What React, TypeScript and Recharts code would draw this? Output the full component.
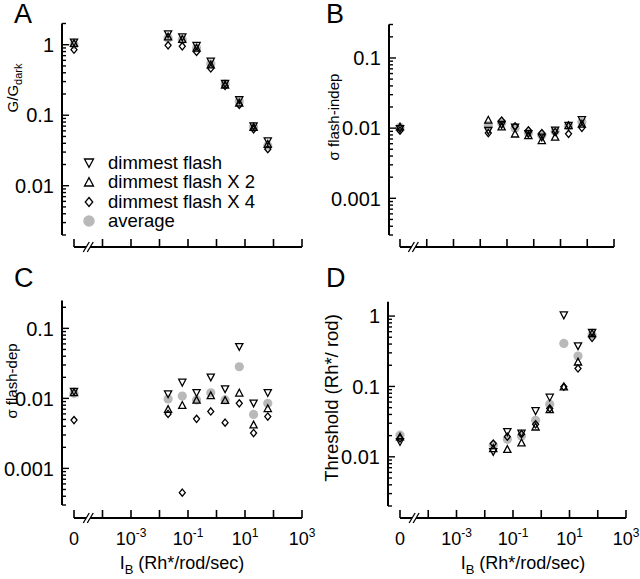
import type { ReactNode } from 'react'
import { ScatterChart, Scatter, XAxis, YAxis, ReferenceLine, Legend } from 'recharts'

const W = 640
const H = 579
const FONT = '"Liberation Sans", Arial, Helvetica, sans-serif'
const GRAY = '#b9b9b9'
// I_B = 0 has no place on a log axis, so it sits one decade left of 10^-4
const ZERO_POS = 1e-5

const intensities = [0, 0.02, 0.063, 0.2, 0.63, 2, 6.3, 20, 63]
const xTicks = [1e-5, 1e-4, 1e-3, 1e-2, 1e-1, 1, 10, 100, 1000]
const xLabelled = [1e-5, 1e-3, 1e-1, 10, 1000]
const seriesNames = ['dimmest flash', 'dimmest flash X 2', 'dimmest flash X 4', 'average']

// A: G/Gdark
const gDimmest = [1.08, 1.42, 1.28, 0.97, 0.58, 0.28, 0.165, 0.07, 0.043]
const gX2 = [1.05, 1.3, 1.2, 0.9, 0.52, 0.27, 0.15, 0.068, 0.039]
const gX4 = [0.85, 0.98, 0.95, 0.79, 0.46, 0.26, 0.14, 0.063, 0.033]
const gAvg = [1.0, 1.25, 1.18, 0.9, 0.535, 0.277, 0.157, 0.068, 0.037]

// B: sigma flash-indep
const indepDimmest = [0.0098, 0.0092, 0.0112, 0.0103, 0.0083, 0.0074, 0.0093, 0.0109, 0.0131]
const indepX2 = [0.0105, 0.0131, 0.0105, 0.0083, 0.0079, 0.0067, 0.0075, 0.0109, 0.0115]
const indepX4 = [0.0092, 0.0085, 0.0128, 0.0106, 0.0093, 0.0085, 0.0088, 0.0083, 0.0101]
const indepAvg = [0.0103, 0.0109, 0.0118, 0.01, 0.0085, 0.0079, 0.009, 0.0107, 0.0122]

// C: sigma flash-dep
const depDimmest = [0.0125, 0.0115, 0.0169, 0.012, 0.02, 0.0136, 0.0546, 0.0085, 0.012]
const depX2 = [0.0122, 0.007, 0.008, 0.0095, 0.011, 0.0094, 0.012, 0.0042, 0.0072]
const depX4 = [0.0049, 0.006, 0.00045, 0.0051, 0.0065, 0.0045, 0.0085, 0.0032, 0.0055]
const depAvg = [0.0118, 0.0098, 0.0108, 0.0095, 0.012, 0.0095, 0.0283, 0.0059, 0.0085]

// D: threshold
const thrDimmest = [0.0163, 0.0118, 0.0226, 0.0216, 0.0449, 0.0699, 1.03, 0.375, 0.58]
const thrX2 = [0.0193, 0.0132, 0.0128, 0.0159, 0.0267, 0.047, 0.099, 0.224, 0.567]
const thrX4 = [0.0182, 0.0154, 0.0193, 0.021, 0.029, 0.0487, 0.099, 0.18, 0.49]
const thrAvg = [0.0203, 0.0146, 0.0177, 0.0197, 0.0331, 0.056, 0.409, 0.27, 0.537]

type Kind = 'down' | 'up' | 'diamond' | 'avg'
const kinds: Kind[] = ['down', 'up', 'diamond', 'avg']

type PanelDef = {
  letter: string
  series: number[][]
  yLo: number
  yHi: number
  yAxisX: number
  topPx: number
  yLoPx: number
  xAxisY: number
  xStartPx: number
  xEndPx: number
  xLabels: boolean
  legend: boolean
}

const panels: PanelDef[] = [
  { letter: 'A', series: [gDimmest, gX2, gX4, gAvg], yLo: 0.002, yHi: 2, yAxisX: 62, topPx: 23.5, yLoPx: 235, xAxisY: 247, xStartPx: 74, xEndPx: 302, xLabels: false, legend: true },
  { letter: 'B', series: [indepDimmest, indepX2, indepX4, indepAvg], yLo: 0.0003, yHi: 0.3, yAxisX: 389, topPx: 24.5, yLoPx: 235, xAxisY: 247, xStartPx: 400, xEndPx: 614, xLabels: false, legend: false },
  { letter: 'C', series: [depDimmest, depX2, depX4, depAvg], yLo: 0.0003, yHi: 0.25, yAxisX: 62, topPx: 300.5, yLoPx: 505, xAxisY: 518, xStartPx: 74, xEndPx: 302, xLabels: true, legend: false },
  { letter: 'D', series: [thrDimmest, thrX2, thrX4, thrAvg], yLo: 0.002, yHi: 1.6, yAxisX: 388, topPx: 301.7, yLoPx: 506, xAxisY: 518, xStartPx: 400, xEndPx: 626, xLabels: true, legend: false }
]

function logTicks(lo: number, hi: number) {
  const out: number[] = []
  for (let e = Math.floor(Math.log10(lo)); e <= Math.ceil(Math.log10(hi)); e++) {
    for (let m = 1; m <= 9; m++) {
      const v = Number((m * 10 ** e).toPrecision(3))
      if (v >= lo * 0.999 && v <= hi * 1.001) out.push(v)
    }
  }
  return out
}

function Marker({ kind, cx, cy, s = 1 }: { kind: Kind; cx: number; cy: number; s?: number }) {
  if (cx == null || cy == null) return null
  if (kind === 'avg') return <circle cx={cx} cy={cy} r={4.6 * s} fill={GRAY} />
  const a = 3.6 * s
  const b = 3.2 * s
  let d = ''
  if (kind === 'down') d = `M${cx - a},${cy - b}L${cx + a},${cy - b}L${cx},${cy + b + 0.4}Z`
  else if (kind === 'up') d = `M${cx - a},${cy + b}L${cx + a},${cy + b}L${cx},${cy - b - 0.4}Z`
  else d = `M${cx},${cy - a}L${cx + 3 * s},${cy}L${cx},${cy + a}L${cx - 3 * s},${cy}Z`
  return <path d={d} fill="none" stroke="#000" strokeWidth={1.3} strokeLinejoin="miter" />
}

function YTick(props: any) {
  const { x, y, payload } = props
  const v = payload.value
  const lg = Math.log10(v)
  const major = Math.abs(lg - Math.round(lg)) < 1e-6
  return (
    <g>
      <line x1={x} x2={x + (major ? 7 : 4)} y1={y} y2={y} stroke="#000" strokeWidth={1.4} />
      {major && (
        <text x={x - 8} y={y} dy="0.36em" textAnchor="end" fontSize={20} fontFamily={FONT} fill="#000">
          {String(v)}
        </text>
      )}
    </g>
  )
}

function XTick(props: any) {
  const { x, y, payload, labels, decX } = props
  const v = payload.value
  const isZero = v === ZERO_POS
  const exp = Math.round(Math.log10(v))
  const labelled = labels && xLabelled.includes(v)
  const bx = x + decX / 2
  return (
    <g>
      <line x1={x} x2={x} y1={y} y2={y - 8} stroke="#000" strokeWidth={1.6} />
      {isZero && (
        <g>
          <polygon points={`${bx - 5},${y + 5} ${bx - 1},${y + 5} ${bx + 5},${y - 5} ${bx + 1},${y - 5}`} fill="#fff" />
          <line x1={bx - 5} y1={y + 5} x2={bx + 1} y2={y - 5} stroke="#000" strokeWidth={1.3} />
          <line x1={bx - 1} y1={y + 5} x2={bx + 5} y2={y - 5} stroke="#000" strokeWidth={1.3} />
        </g>
      )}
      {labelled && (
        <text x={x} y={y + 27} textAnchor="middle" fontSize={18} fontFamily={FONT} fill="#000">
          {isZero ? (
            '0'
          ) : (
            <>
              10
              <tspan dy={-8} fontSize={12}>
                {String(exp)}
              </tspan>
            </>
          )}
        </text>
      )}
    </g>
  )
}

function LegendBox(props: any) {
  const items = [...(props.payload ?? [])].sort(
    (a: any, b: any) => seriesNames.indexOf(a.value) - seriesNames.indexOf(b.value)
  )
  return (
    <div style={{ fontFamily: FONT, fontSize: 18.5, color: '#000' }}>
      {items.map((it: any) => (
        <div key={it.value} style={{ display: 'flex', alignItems: 'center', height: 19.5 }}>
          <svg width={20} height={20} style={{ display: 'block' }}>
            <Marker kind={kinds[seriesNames.indexOf(it.value)]} cx={10} cy={10} s={1.25} />
          </svg>
          <span style={{ marginLeft: 9, whiteSpace: 'nowrap' }}>{it.value}</span>
        </div>
      ))}
    </div>
  )
}

function Panel({ p }: { p: PanelDef }) {
  const decY = (p.yLoPx - p.topPx) / Math.log10(p.yHi / p.yLo)
  const yDomLo = p.yLo / 10 ** ((p.xAxisY - p.yLoPx) / decY)
  const decX = (p.xEndPx - p.xStartPx) / 8
  const xDomLo = ZERO_POS / 10 ** ((p.xStartPx - p.yAxisX) / decX)
  const yTicks = logTicks(p.yLo, p.yHi)
  // gray averages first so the open symbols sit on top
  const drawOrder = [3, 0, 1, 2]

  return (
    <div style={{ position: 'absolute', left: 0, top: 0 }}>
      <ScatterChart width={W} height={H} margin={{ top: p.topPx, right: W - p.xEndPx, bottom: 0, left: 0 }}>
        <XAxis
          type="number"
          dataKey="x"
          scale="log"
          domain={[xDomLo, 1000]}
          allowDataOverflow
          ticks={xTicks}
          interval={0}
          axisLine={false}
          tickLine={false}
          tickSize={0}
          tickMargin={0}
          height={H - p.xAxisY}
          tick={(tp: any) => <XTick {...tp} labels={p.xLabels} decX={decX} />}
        />
        <YAxis
          type="number"
          dataKey="y"
          scale="log"
          domain={[yDomLo, p.yHi]}
          allowDataOverflow
          ticks={yTicks}
          interval={0}
          axisLine={false}
          tickLine={false}
          tickSize={0}
          tickMargin={0}
          width={p.yAxisX}
          tick={(tp: any) => <YTick {...tp} />}
        />
        <ReferenceLine
          ifOverflow="visible"
          segment={[{ x: xDomLo, y: p.yLo }, { x: xDomLo, y: p.yHi }]}
          stroke="#000"
          strokeWidth={2}
        />
        <ReferenceLine
          ifOverflow="visible"
          segment={[{ x: ZERO_POS, y: yDomLo }, { x: 1000, y: yDomLo }]}
          stroke="#000"
          strokeWidth={2}
        />
        {drawOrder.map((si) => (
          <Scatter
            key={seriesNames[si]}
            name={seriesNames[si]}
            data={intensities.map((x, i) => ({ x: x === 0 ? ZERO_POS : x, y: p.series[si][i] }))}
            fill={si === 3 ? GRAY : '#000'}
            isAnimationActive={false}
            shape={(sp: any) => <Marker kind={kinds[si]} cx={sp.cx} cy={sp.cy} />}
          />
        ))}
        {p.legend && (
          <Legend
            layout="vertical"
            align="center"
            verticalAlign="middle"
            content={<LegendBox />}
            wrapperStyle={{ left: 79, top: 153, width: 220 }}
          />
        )}
      </ScatterChart>
    </div>
  )
}

function Titles() {
  const yTitles: { x: number; y: number; size: number; node: ReactNode }[] = [
    { x: 18, y: 88, size: 15, node: <>G/G<tspan dy={4} fontSize={11}>dark</tspan></> },
    { x: 339, y: 117, size: 15, node: <>σ flash-indep</> },
    { x: 17, y: 381, size: 15, node: <>σ flash-dep</> },
    { x: 338, y: 398, size: 18.5, node: <>Threshold (Rh*/ rod)</> }
  ]
  const letters = [
    { t: 'A', x: 14, y: 23 },
    { t: 'B', x: 326, y: 23 },
    { t: 'C', x: 14, y: 287 },
    { t: 'D', x: 326, y: 287 }
  ]
  const xTitles = [182, 523]
  return (
    <svg width={W} height={H} style={{ position: 'absolute', left: 0, top: 0, pointerEvents: 'none' }} fontFamily={FONT}>
      {letters.map((l) => (
        <text key={l.t} x={l.x} y={l.y} fontSize={27} fill="#000">
          {l.t}
        </text>
      ))}
      {yTitles.map((t, i) => (
        <text key={i} transform={`translate(${t.x},${t.y}) rotate(-90)`} textAnchor="middle" fontSize={t.size} fill="#000">
          {t.node}
        </text>
      ))}
      {xTitles.map((cx) => (
        <text key={cx} x={cx} y={569} textAnchor="middle" fontSize={18} fill="#000">
          I<tspan dy={5} fontSize={13}>B</tspan>
          <tspan dy={-5}> (Rh*/rod/sec)</tspan>
        </text>
      ))}
    </svg>
  )
}

export default function App() {
  return (
    <div style={{ position: 'relative', width: W, height: H, background: '#fff' }}>
      <style>{'body{margin:0}'}</style>
      {panels.map((p) => (
        <Panel key={p.letter} p={p} />
      ))}
      <Titles />
    </div>
  )
}
